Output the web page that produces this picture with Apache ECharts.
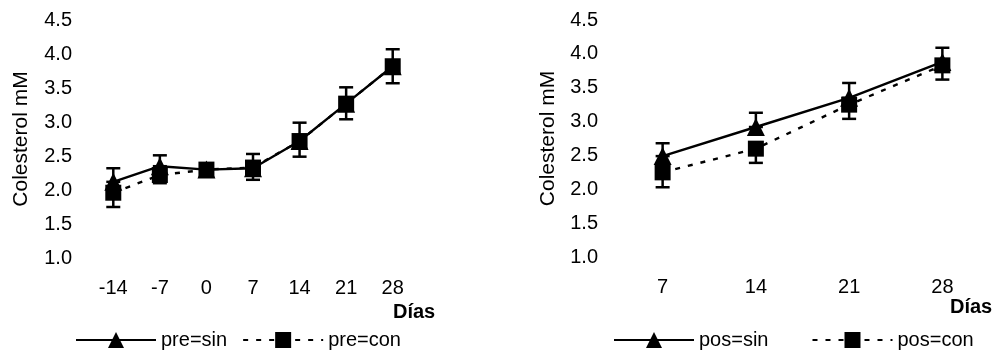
<!DOCTYPE html>
<html>
<head>
<meta charset="utf-8">
<script src="https://cdn.jsdelivr.net/npm/echarts@6/dist/echarts.min.js"></script>
<style>
  html, body { margin: 0; padding: 0; background: #fff; }
  #chart { width: 996px; height: 351px; }
</style>
</head>
<body>
<div id="chart"></div>
<script>
// Left panel: pre
const preDays = ['-14', '-7', '0', '7', '14', '21', '28'];
const preSin = [2.12, 2.35, 2.30, 2.32, 2.72, 3.27, 3.82];
const preSinErr = [0.20, 0.16, 0.05, 0.21, 0.27, 0.24, 0.25];
const preCon = [1.96, 2.22, 2.30, 2.33, 2.72, 3.27, 3.82];
const preConErr = [0.21, 0.12, 0.05, 0.18, 0.23, 0.23, 0.25];

// Right panel: pos
const posDays = ['7', '14', '21', '28'];
const posSin = [2.49, 2.92, 3.35, 3.88];
const posSinErr = [0.19, 0.21, 0.22, 0.21];
const posCon = [2.25, 2.60, 3.25, 3.83];
const posConErr = [0.22, 0.21, 0.21, 0.21];

const yTicks = ['1.0', '1.5', '2.0', '2.5', '3.0', '3.5', '4.0', '4.5'];

const FONT = 'Liberation Sans, Arial, sans-serif';
const INK = '#000';

// error bars: sin draws upward, con draws downward
function errData(vals, errs, up) {
  return vals.map((v, i) => up ? [i, v, v + errs[i]] : [i, v - errs[i], v]);
}

function errorBar(xi, yi, data) {
  return {
    type: 'custom',
    xAxisIndex: xi,
    yAxisIndex: yi,
    data: data,
    z: 1,
    silent: true,
    renderItem: (params, api) => {
      const lo = api.coord([api.value(0), api.value(1)]);
      const hi = api.coord([api.value(0), api.value(2)]);
      const w = 7;
      const st = { stroke: INK, lineWidth: 2.5 };
      return {
        type: 'group',
        children: [
          { type: 'line', shape: { x1: lo[0], y1: lo[1], x2: hi[0], y2: hi[1] }, style: st },
          { type: 'line', shape: { x1: lo[0] - w, y1: lo[1], x2: lo[0] + w, y2: lo[1] }, style: st },
          { type: 'line', shape: { x1: hi[0] - w, y1: hi[1], x2: hi[0] + w, y2: hi[1] }, style: st }
        ]
      };
    }
  };
}

function lineSeries(name, xi, yi, data, symbol, dashed) {
  return {
    name: name,
    type: 'line',
    xAxisIndex: xi,
    yAxisIndex: yi,
    data: data,
    symbol: symbol,
    symbolSize: symbol === 'triangle' ? 18 : 16,
    z: 3,
    itemStyle: { color: INK },
    lineStyle: { color: INK, width: 2.4, type: dashed ? [5, 8] : 'solid' }
  };
}

const yAxisBase = {
  type: 'value',
  min: 1,
  max: 4.5,
  interval: 0.5,
  name: 'Colesterol mM',
  nameLocation: 'middle',
  nameRotate: 90,
  nameTextStyle: { fontFamily: FONT, fontSize: 21, color: INK },
  axisLine: { show: false },
  axisTick: { show: false },
  splitLine: { show: false },
  axisLabel: {
    fontFamily: FONT, fontSize: 20, color: INK, margin: 18,
    formatter: v => yTicks[Math.round((v - 1) / 0.5)]
  }
};

const xAxisBase = {
  type: 'category',
  boundaryGap: true,
  axisLine: { show: false },
  axisTick: { show: false },
  splitLine: { show: false },
  axisLabel: { fontFamily: FONT, fontSize: 20, color: INK, margin: 20 }
};

const legendText = { fontFamily: FONT, fontSize: 20, color: INK };

const chart = echarts.init(document.getElementById('chart'));
chart.setOption({
  animation: false,
  backgroundColor: '#fff',
  grid: [
    { left: 90, top: 20, width: 326, height: 238 },
    { left: 616, top: 20, width: 373, height: 237 }
  ],
  xAxis: [
    Object.assign({}, xAxisBase, { gridIndex: 0, data: preDays }),
    Object.assign({}, xAxisBase, { gridIndex: 1, data: posDays })
  ],
  yAxis: [
    Object.assign({}, yAxisBase, { gridIndex: 0, nameGap: 58 }),
    Object.assign({}, yAxisBase, { gridIndex: 1, nameGap: 57 })
  ],
  legend: [
    {
      left: 70, top: 325,
      itemWidth: 80, itemHeight: 20, itemGap: 15,
      textStyle: legendText,
      data: ['pre=sin', 'pre=con']
    },
    {
      left: 608, top: 325,
      itemWidth: 80, itemHeight: 20, itemGap: 43,
      textStyle: legendText,
      data: ['pos=sin', 'pos=con']
    }
  ],
  graphic: [
    { type: 'text', left: 393, top: 302, style: { text: 'Días', font: 'bold 20px ' + FONT, fill: INK } },
    { type: 'text', left: 950, top: 297, style: { text: 'Días', font: 'bold 20px ' + FONT, fill: INK } }
  ],
  series: [
    errorBar(0, 0, errData(preSin, preSinErr, true)),
    errorBar(0, 0, errData(preCon, preConErr, false)),
    lineSeries('pre=sin', 0, 0, preSin, 'triangle', false),
    lineSeries('pre=con', 0, 0, preCon, 'rect', true),
    errorBar(1, 1, errData(posSin, posSinErr, true)),
    errorBar(1, 1, errData(posCon, posConErr, false)),
    lineSeries('pos=sin', 1, 1, posSin, 'triangle', false),
    lineSeries('pos=con', 1, 1, posCon, 'rect', true)
  ]
});
</script>
</body>
</html>
